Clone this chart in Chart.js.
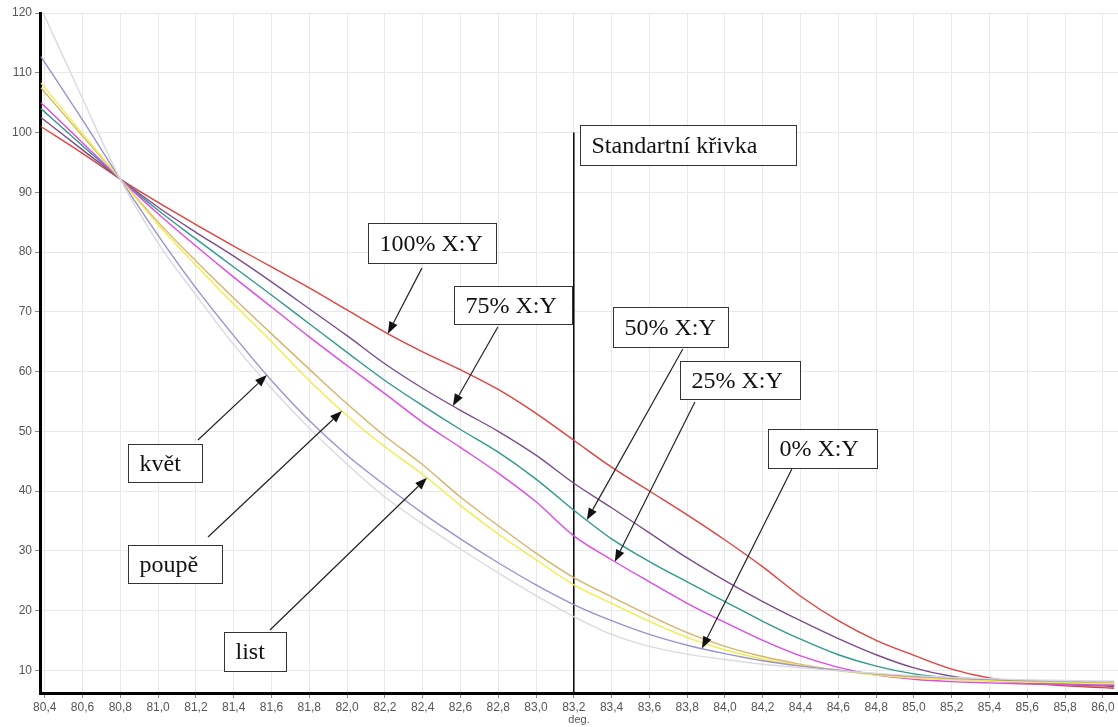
<!DOCTYPE html>
<html>
<head>
<meta charset="utf-8">
<script src="https://cdn.jsdelivr.net/npm/chart.js@4/dist/chart.umd.min.js"></script>
<style>
  html, body { margin: 0; padding: 0; background: #fff; }
  #wrap { width: 1118px; height: 727px; position: relative; }
</style>
</head>
<body>
<div id="wrap"><canvas id="c"></canvas></div>
<script>
// Temperature axis (deg.) sample positions
const xValues = [80.38, 80.6, 80.8, 81.0, 81.2, 81.4, 81.6, 81.8, 82.0, 82.2,
                 82.4, 82.6, 82.8, 83.0, 83.2, 83.4, 83.6, 83.8, 84.0, 84.2,
                 84.4, 84.6, 84.8, 85.0, 85.2, 85.4, 85.6, 85.8, 86.0, 86.06];

// Melting curves
const curve100 = [101.0, 96.5, 92.2, 88.3, 84.6, 81.0, 77.5, 74.0, 70.3, 66.6,
                  63.3, 60.3, 57.0, 53.0, 48.5, 44.0, 40.0, 36.0, 31.8, 27.3,
                  22.4, 18.3, 15.0, 12.5, 10.2, 8.7, 7.9, 7.4, 7.1, 7.0];
const curve75 = [102.5, 97.1, 92.2, 87.5, 83.3, 79.3, 75.0, 70.5, 66.0, 61.3,
                 57.2, 53.5, 50.0, 46.0, 41.3, 37.2, 33.0, 28.8, 25.0, 21.5,
                 18.3, 15.3, 12.6, 10.4, 9.0, 8.3, 7.9, 7.6, 7.4, 7.3];
const curve50 = [104.0, 97.8, 92.2, 87.0, 82.2, 77.5, 72.8, 68.0, 63.2, 58.5,
                 54.3, 50.3, 46.5, 42.0, 36.8, 32.0, 28.2, 24.8, 21.5, 18.2,
                 15.2, 12.6, 10.7, 9.4, 8.7, 8.3, 8.0, 7.8, 7.7, 7.7];
const curve25 = [105.0, 98.3, 92.2, 86.4, 81.0, 75.8, 70.8, 65.8, 61.0, 56.3,
                 51.5, 47.3, 43.0, 38.2, 32.5, 28.5, 24.8, 21.2, 18.0, 15.0,
                 12.4, 10.5, 9.2, 8.5, 8.1, 7.9, 7.7, 7.6, 7.5, 7.5];
const curveTan = [107.5, 99.4, 92.2, 85.0, 78.5, 72.3, 66.3, 60.4, 54.6, 49.2,
                  44.4, 39.0, 34.2, 29.6, 25.5, 22.3, 19.2, 16.3, 14.0, 12.3,
                  11.0, 10.0, 9.3, 8.8, 8.5, 8.3, 8.1, 8.0, 7.9, 7.9];
const curveYellow = [108.3, 99.8, 92.2, 84.6, 77.8, 71.3, 65.0, 58.5, 52.6, 47.4,
                     42.8, 37.6, 32.8, 28.5, 24.3, 21.2, 18.2, 15.5, 13.4, 11.9,
                     10.8, 9.9, 9.2, 8.7, 8.4, 8.2, 8.0, 7.9, 7.8, 7.8];
const curveLilac = [112.7, 102.1, 92.2, 82.8, 74.0, 66.0, 58.5, 51.8, 46.0, 41.0,
                    36.3, 32.0, 28.0, 24.3, 21.0, 18.3, 16.0, 14.2, 12.8, 11.6,
                    10.7, 10.0, 9.4, 9.0, 8.7, 8.5, 8.3, 8.2, 8.1, 8.1];
const curveGrey = [120.8, 105.7, 92.2, 81.5, 72.8, 64.5, 57.2, 50.5, 44.5, 39.0,
                   34.5, 30.3, 26.3, 22.5, 19.0, 16.0, 14.0, 12.7, 11.8, 11.0,
                   10.4, 9.9, 9.5, 9.1, 8.8, 8.6, 8.4, 8.3, 8.2, 8.2];

// Standard curve marker
const standardX = 83.2;
const standardTop = 100;

// Axis ticks
const xTicks = [80.4, 80.6, 80.8, 81.0, 81.2, 81.4, 81.6, 81.8, 82.0, 82.2, 82.4,
                82.6, 82.8, 83.0, 83.2, 83.4, 83.6, 83.8, 84.0, 84.2, 84.4, 84.6,
                84.8, 85.0, 85.2, 85.4, 85.6, 85.8, 86.0];
const yTicks = [10, 20, 30, 40, 50, 60, 70, 80, 90, 100, 110, 120];

const X_MIN = 80.375, X_MAX = 86.08, Y_MIN = 6.2, Y_MAX = 120;

const toPoints = arr => xValues.map((xv, i) => ({ x: xv, y: arr[i] }));

function valueAt(arr, xv) {
  for (let i = 0; i < xValues.length - 1; i++) {
    if (xv >= xValues[i] && xv <= xValues[i + 1]) {
      const t = (xv - xValues[i]) / (xValues[i + 1] - xValues[i]);
      return arr[i] + t * (arr[i + 1] - arr[i]);
    }
  }
  return arr[arr.length - 1];
}

// Text callouts: box corner in axis units, arrow from tail to a point on a curve
const callouts = [
  { text: 'Standartní křivka', x: 83.232, y: 101.26, w: 216, h: 40 },
  { text: '100% X:Y', x: 82.11, y: 84.86, w: 128, h: 40,
    arrow: { fromX: 82.396, fromY: 77.3, toX: 82.216, curve: curve100 } },
  { text: '75% X:Y', x: 82.566, y: 74.32, w: 118, h: 38,
    arrow: { fromX: 82.798, fromY: 67.45, toX: 82.56, curve: curve75 } },
  { text: '50% X:Y', x: 83.407, y: 70.8, w: 115, h: 40,
    arrow: { fromX: 83.777, fromY: 63.77, toX: 83.269, curve: curve50 } },
  { text: '25% X:Y', x: 83.761, y: 61.77, w: 120, h: 38,
    arrow: { fromX: 83.841, fromY: 54.9, toX: 83.417, curve: curve25 } },
  { text: '0% X:Y', x: 84.227, y: 50.38, w: 109, h: 39,
    arrow: { fromX: 84.354, fromY: 43.69, toX: 83.878, curve: curveLilac } },
  { text: 'květ', x: 80.841, y: 47.87, w: 74, h: 38,
    arrow: { fromX: 81.211, fromY: 48.54, toX: 81.576, curve: curveLilac } },
  { text: 'poupě', x: 80.841, y: 30.97, w: 94, h: 38,
    arrow: { fromX: 81.264, fromY: 32.31, toX: 81.973, curve: curveYellow } },
  { text: 'list', x: 81.349, y: 16.41, w: 62, h: 39,
    arrow: { fromX: 81.592, fromY: 16.74, toX: 82.423, curve: curveYellow } }
];

function drawArrow(ctx, x1, y1, x2, y2) {
  const ang = Math.atan2(y2 - y1, x2 - x1);
  const len = 12, half = 4.5;
  const bx = x2 - len * Math.cos(ang), by = y2 - len * Math.sin(ang);
  ctx.strokeStyle = '#222';
  ctx.lineWidth = 1.2;
  ctx.beginPath();
  ctx.moveTo(x1, y1);
  ctx.lineTo(bx, by);
  ctx.stroke();
  ctx.fillStyle = '#111';
  ctx.beginPath();
  ctx.moveTo(x2, y2);
  ctx.lineTo(bx + half * Math.sin(ang), by - half * Math.cos(ang));
  ctx.lineTo(bx - half * Math.sin(ang), by + half * Math.cos(ang));
  ctx.closePath();
  ctx.fill();
}

const calloutPlugin = {
  id: 'callouts',
  afterDatasetsDraw(chart) {
    const { ctx, scales: { x, y } } = chart;
    ctx.save();
    callouts.forEach(c => {
      if (c.arrow) {
        const a = c.arrow;
        drawArrow(ctx,
          x.getPixelForValue(a.fromX), y.getPixelForValue(a.fromY),
          x.getPixelForValue(a.toX), y.getPixelForValue(valueAt(a.curve, a.toX)));
      }
      const bx = Math.round(x.getPixelForValue(c.x)) + 0.5;
      const by = Math.round(y.getPixelForValue(c.y)) + 0.5;
      ctx.fillStyle = '#fff';
      ctx.fillRect(bx, by, c.w, c.h);
      ctx.strokeStyle = '#333';
      ctx.lineWidth = 1;
      ctx.strokeRect(bx, by, c.w, c.h);
      ctx.fillStyle = '#111';
      ctx.font = '24px "Liberation Serif", "Times New Roman", serif';
      ctx.textBaseline = 'middle';
      ctx.textAlign = 'left';
      ctx.fillText(c.text, bx + 11, by + c.h / 2 + 1);
    });
    ctx.restore();
  }
};

const lineDs = (label, arr, color) => ({
  label, data: toPoints(arr), borderColor: color, borderWidth: 1.4,
  pointRadius: 0, fill: false, cubicInterpolationMode: 'monotone'
});

const tickFont = { family: '"Liberation Sans", Arial, sans-serif', size: 12 };

new Chart(document.getElementById('c'), {
  type: 'line',
  data: {
    datasets: [
      lineDs('A', curveGrey, '#d9d9e3'),
      lineDs('B', curveLilac, '#9a92d0'),
      lineDs('C', curveYellow, '#f1ec4a'),
      lineDs('D', curveTan, '#d6b46a'),
      lineDs('25%', curve25, '#e048e6'),
      lineDs('50%', curve50, '#2e9a8c'),
      lineDs('75%', curve75, '#7c4c8a'),
      lineDs('100%', curve100, '#e2413f'),
      { label: 'Standartní křivka',
        data: [{ x: standardX, y: standardTop }, { x: standardX, y: Y_MIN }],
        borderColor: '#000', borderWidth: 1.5, pointRadius: 0, fill: false }
    ]
  },
  options: {
    responsive: true,
    maintainAspectRatio: false,
    animation: false,
    layout: { padding: { top: 13, right: 0, bottom: 0, left: 0 } },
    plugins: { legend: { display: false }, tooltip: { enabled: false } },
    scales: {
      x: {
        type: 'linear', min: X_MIN, max: X_MAX,
        afterBuildTicks: s => { s.ticks = xTicks.map(v => ({ value: v })); },
        afterFit: s => { s.height = 34; },
        ticks: {
          callback: v => Number(v).toFixed(1).replace('.', ','),
          color: '#555', font: tickFont, autoSkip: false, maxRotation: 0, padding: 2
        },
        grid: { color: '#e8e8e8', lineWidth: 1, tickLength: 5, tickColor: '#888' },
        border: { color: '#000', width: 3 },
        title: { display: true, text: 'deg.', color: '#555',
                 font: { family: '"Liberation Sans", Arial, sans-serif', size: 11 },
                 padding: { top: 0, bottom: 0 } }
      },
      y: {
        type: 'linear', min: Y_MIN, max: Y_MAX,
        afterBuildTicks: s => { s.ticks = yTicks.map(v => ({ value: v })); },
        afterFit: s => { s.width = 40; },
        ticks: { color: '#555', font: tickFont, padding: 3 },
        grid: { color: '#e8e8e8', lineWidth: 1, tickLength: 5, tickColor: '#888' },
        border: { color: '#000', width: 3 }
      }
    }
  },
  plugins: [calloutPlugin]
});
</script>
</body>
</html>
